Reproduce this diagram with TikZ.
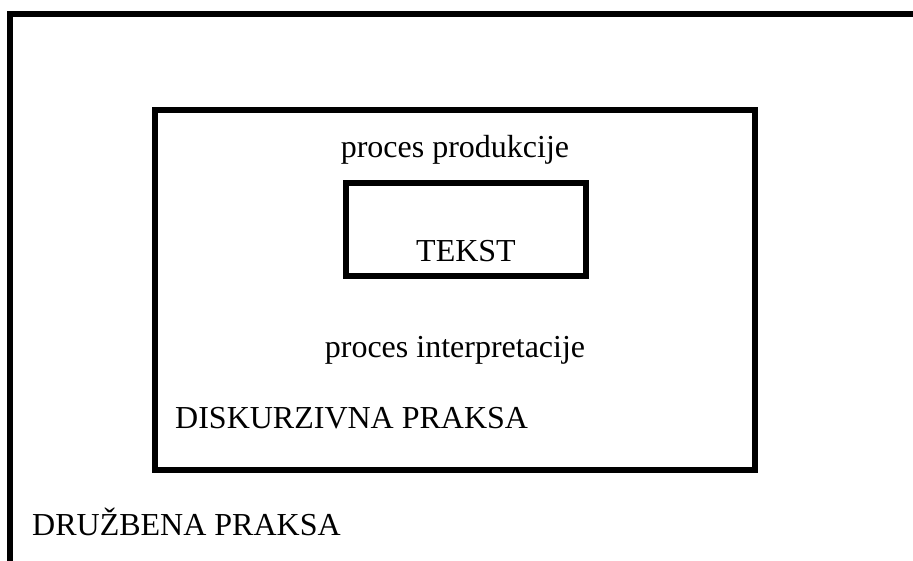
\documentclass[tikz,border=0pt]{standalone}
\usepackage{fontspec}
\setmainfont{Liberation Serif}
\tikzset{okvir/.style={draw, line width=6pt, inner sep=0pt},
  oznaka/.style={font=\fontsize{32}{38}\selectfont, inner sep=0pt}}
\begin{document}
\begin{tikzpicture}[x=1pt, y=-1pt]
\useasboundingbox (0,0) rectangle (913,561);
\clip (0,0) rectangle (913,561);
% outer frame (cut by the page)
\draw[line width=6pt] (10,580) -- (10,14) -- (940,14);
\node[okvir, minimum width=600.5pt, minimum height=360pt] (praksa) at (454.75,290) {};
\node[okvir, minimum width=240pt, minimum height=93pt] (tekstbox) at (466,229.5) {};
\node[oznaka, anchor=base] (produkcija) at (455,158) {proces produkcije};
\node[oznaka, anchor=base] (tekst) at (466,262) {TEKST};
\node[oznaka, anchor=base] (interpretacija) at (455,357) {proces interpretacije};
\node[oznaka, anchor=base west] (diskurz) at (175,428) {DISKURZIVNA PRAKSA};
\node[oznaka, anchor=base west] (druzba) at (32,535) {DRUŽBENA PRAKSA};
\end{tikzpicture}
\end{document}
